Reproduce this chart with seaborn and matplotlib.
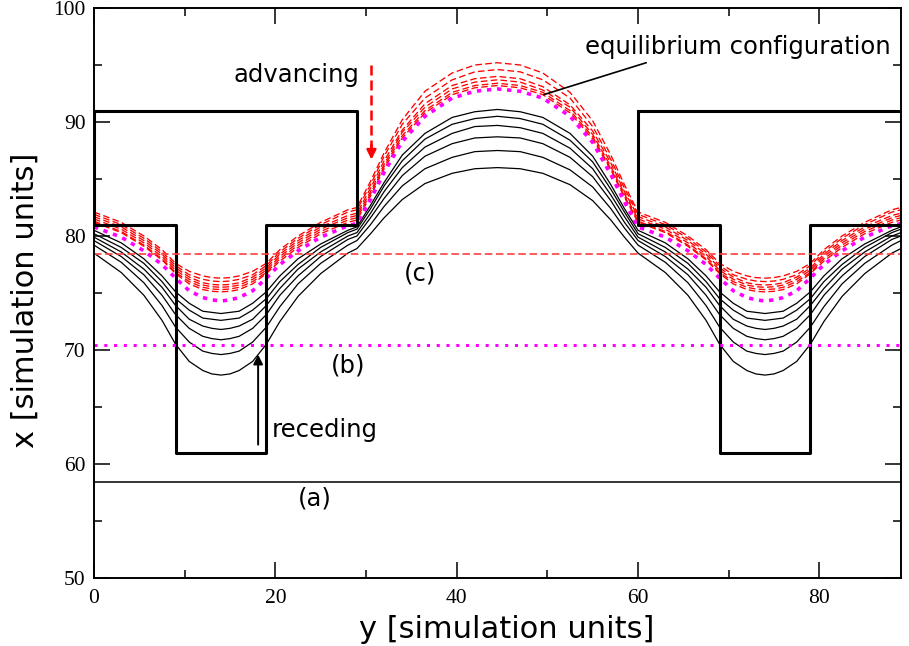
import numpy as np
import pandas as pd
import matplotlib
matplotlib.use("Agg")
import matplotlib.pyplot as plt
import seaborn as sns

# ---------------- data ----------------
X = [0, 3, 5.5, 7.5, 9, 10.5, 12, 13, 14, 15, 16, 17.5, 19, 20.5, 22.5, 25, 28, 29,
     30.5, 32, 34, 36.5, 39.5, 42, 44.5, 47, 49.5, 52.5, 55, 57, 58.5, 60,
     63, 65.5, 67.5, 69, 70.5, 72, 73, 74, 75, 76, 77.5, 79, 80.5, 82.5, 85, 88, 89]

# receding (black solid) interfaces
B1 = [80.5, 79.4, 78.0, 76.5, 75.1, 74.1, 73.4, 73.3, 73.2, 73.3, 73.4, 74.1, 75.1, 76.5, 78.0, 79.3, 80.5, 80.8,
      82.7, 84.7, 87.1, 89.0, 90.4, 90.9, 91.1, 90.9, 90.4, 89.0, 87.0, 84.5, 82.4, 80.5,
      79.4, 78.0, 76.5, 75.1, 74.1, 73.4, 73.3, 73.2, 73.3, 73.4, 74.1, 75.1, 76.5, 78.0, 79.3, 80.5, 80.8]
B2 = [80.2, 79.0, 77.6, 76.0, 74.5, 73.5, 72.8, 72.7, 72.6, 72.7, 72.8, 73.5, 74.5, 76.0, 77.5, 79.0, 80.3, 80.6,
      82.4, 84.4, 86.6, 88.5, 89.8, 90.3, 90.5, 90.3, 89.8, 88.4, 86.5, 84.1, 82.1, 80.2,
      79.0, 77.6, 76.0, 74.5, 73.5, 72.8, 72.7, 72.6, 72.7, 72.8, 73.5, 74.5, 76.0, 77.5, 79.0, 80.3, 80.6]
B3 = [79.9, 78.6, 77.1, 75.5, 73.9, 72.7, 72.1, 71.9, 71.8, 71.9, 72.1, 72.7, 73.9, 75.4, 77.1, 78.6, 80.0, 80.3,
      82.0, 83.9, 86.0, 87.8, 89.0, 89.6, 89.7, 89.5, 89.0, 87.7, 85.9, 83.6, 81.7, 79.9,
      78.6, 77.1, 75.5, 73.9, 72.7, 72.1, 71.9, 71.8, 71.9, 72.1, 72.7, 73.9, 75.4, 77.1, 78.6, 80.0, 80.3]
B4 = [79.6, 78.2, 76.6, 74.8, 73.1, 71.9, 71.2, 71.0, 70.9, 71.0, 71.2, 71.9, 73.1, 74.8, 76.5, 78.2, 79.7, 80.0,
      81.6, 83.3, 85.3, 87.0, 88.1, 88.6, 88.7, 88.6, 88.1, 86.9, 85.2, 83.1, 81.2, 79.6,
      78.2, 76.6, 74.8, 73.1, 71.9, 71.2, 71.0, 70.9, 71.0, 71.2, 71.9, 73.1, 74.8, 76.5, 78.2, 79.7, 80.0]
B5 = [79.2, 77.7, 75.9, 73.9, 72.0, 70.7, 69.9, 69.7, 69.6, 69.7, 69.9, 70.7, 72.0, 73.8, 75.8, 77.6, 79.2, 79.6,
      81.0, 82.6, 84.4, 85.9, 86.9, 87.4, 87.5, 87.4, 86.9, 85.8, 84.3, 82.4, 80.7, 79.2,
      77.7, 75.9, 73.9, 72.0, 70.7, 69.9, 69.7, 69.6, 69.7, 69.9, 70.7, 72.0, 73.8, 75.8, 77.6, 79.2, 79.6]
B6 = [78.5, 76.8, 74.8, 72.6, 70.5, 69.0, 68.2, 67.9, 67.8, 67.9, 68.2, 69.0, 70.5, 72.5, 74.7, 76.7, 78.5, 78.9,
      80.2, 81.6, 83.2, 84.6, 85.5, 85.9, 86.0, 85.9, 85.5, 84.5, 83.1, 81.4, 79.9, 78.5,
      76.8, 74.8, 72.6, 70.5, 69.0, 68.2, 67.9, 67.8, 67.9, 68.2, 69.0, 70.5, 72.5, 74.7, 76.7, 78.5, 78.9]

# advancing (red dashed) interfaces
R1 = [82.1, 81.2, 80.0, 78.8, 77.6, 76.9, 76.5, 76.35, 76.3, 76.35, 76.5, 76.9, 77.6, 78.8, 80.0, 81.2, 82.3, 82.5,
      84.8, 87.3, 90.2, 92.7, 94.3, 95.0, 95.2, 95.0, 94.3, 92.6, 90.1, 87.1, 84.5, 82.1,
      81.2, 80.0, 78.8, 77.6, 76.9, 76.5, 76.35, 76.3, 76.35, 76.5, 76.9, 77.6, 78.8, 80.0, 81.2, 82.3, 82.5]
R2 = [81.9, 81.0, 79.8, 78.6, 77.4, 76.6, 76.2, 76.05, 76.0, 76.05, 76.2, 76.6, 77.4, 78.6, 79.8, 81.0, 82.1, 82.3,
      84.5, 87.0, 89.8, 92.1, 93.7, 94.4, 94.6, 94.4, 93.7, 92.1, 89.6, 86.7, 84.2, 81.9,
      81.0, 79.8, 78.6, 77.4, 76.6, 76.2, 76.05, 76.0, 76.05, 76.2, 76.6, 77.4, 78.6, 79.8, 81.0, 82.1, 82.3]
R3 = [81.7, 80.8, 79.6, 78.4, 77.2, 76.4, 75.9, 75.75, 75.7, 75.75, 75.9, 76.4, 77.2, 78.4, 79.6, 80.8, 81.8, 82.0,
      84.2, 86.6, 89.3, 91.6, 93.2, 93.8, 94.0, 93.8, 93.1, 91.5, 89.2, 86.4, 83.9, 81.7,
      80.8, 79.6, 78.4, 77.2, 76.4, 75.9, 75.75, 75.7, 75.75, 75.9, 76.4, 77.2, 78.4, 79.6, 80.8, 81.8, 82.0]
R4 = [81.5, 80.6, 79.4, 78.2, 77.0, 76.2, 75.7, 75.55, 75.5, 75.55, 75.7, 76.2, 77.0, 78.2, 79.4, 80.6, 81.6, 81.8,
      83.9, 86.3, 89.1, 91.3, 92.9, 93.5, 93.7, 93.5, 92.8, 91.3, 88.9, 86.1, 83.7, 81.5,
      80.6, 79.4, 78.2, 77.0, 76.2, 75.7, 75.55, 75.5, 75.55, 75.7, 76.2, 77.0, 78.2, 79.4, 80.6, 81.6, 81.8]
R5 = [81.3, 80.4, 79.2, 78.0, 76.8, 76.0, 75.5, 75.35, 75.3, 75.35, 75.5, 76.0, 76.8, 78.0, 79.2, 80.4, 81.4, 81.6,
      83.7, 86.1, 88.8, 91.0, 92.6, 93.2, 93.4, 93.2, 92.6, 91.0, 88.7, 85.9, 83.5, 81.3,
      80.4, 79.2, 78.0, 76.8, 76.0, 75.5, 75.35, 75.3, 75.35, 75.5, 76.0, 76.8, 78.0, 79.2, 80.4, 81.4, 81.6]
R6 = [81.2, 80.3, 79.1, 77.9, 76.7, 75.8, 75.3, 75.15, 75.1, 75.15, 75.3, 75.8, 76.7, 77.8, 79.0, 80.2, 81.2, 81.4,
      83.5, 85.9, 88.6, 90.8, 92.4, 93.0, 93.2, 93.0, 92.4, 90.8, 88.5, 85.8, 83.4, 81.2,
      80.3, 79.1, 77.9, 76.7, 75.8, 75.3, 75.15, 75.1, 75.15, 75.3, 75.8, 76.7, 77.8, 79.0, 80.2, 81.2, 81.4]

# equilibrium configuration (magenta dotted)
M = [80.8, 79.9, 78.7, 77.5, 76.3, 75.2, 74.6, 74.4, 74.3, 74.4, 74.6, 75.2, 76.3, 77.5, 78.7, 79.9, 80.9, 81.1,
     83.2, 85.6, 88.3, 90.5, 92.1, 92.7, 92.9, 92.7, 92.1, 90.5, 88.2, 85.4, 83.0, 80.8,
     79.9, 78.7, 77.5, 76.3, 75.2, 74.6, 74.4, 74.3, 74.4, 74.6, 75.2, 76.3, 77.5, 78.7, 79.9, 80.9, 81.1]

# obstacle outlines (T-shaped posts)
post1_x = [0, 29, 29, 19, 19, 9, 9, 0, 0]
post1_y = [91, 91, 81, 81, 61, 61, 81, 81, 91]
post2_x = [60, 89, 89, 79, 79, 69, 69, 60, 60]
post2_y = [91, 91, 81, 81, 61, 61, 81, 81, 91]

# horizontal reference levels (a), (b), (c)
level_a = 58.4
level_b = 70.4
level_c = 78.4

x_ticks = [0, 20, 40, 60, 80]
y_ticks = [50, 60, 70, 80, 90, 100]

# ---------------- plot ----------------
sns.set_theme(style="white")
plt.rcParams['font.family'] = ['DejaVu Sans']

fig = plt.figure(figsize=(9.09, 6.46), dpi=100)
ax = fig.add_axes([94 / 909, 1 - 578 / 646, (901 - 94) / 909, (578 - 8) / 646])

for arr in [B1, B2, B3, B4, B5, B6]:
    sns.lineplot(x=X, y=arr, color="black", lw=0.9, sort=False, estimator=None, ax=ax)
for arr in [R1, R2, R3, R4, R5, R6]:
    sns.lineplot(x=X, y=arr, color="red", lw=0.95, linestyle=(0, (5, 2.5)),
                 sort=False, estimator=None, ax=ax)
sns.lineplot(x=X, y=M, color="magenta", lw=2.6, linestyle=(0, (1.2, 1.6)),
             sort=False, estimator=None, ax=ax)

for px, py in [(post1_x, post1_y), (post2_x, post2_y)]:
    sns.lineplot(x=px, y=py, color="black", lw=2.2, sort=False, estimator=None, ax=ax)

ax.axhline(level_a, color="black", lw=1.1)
ax.axhline(level_b, color="magenta", lw=2.2, linestyle=(0, (1, 2.2)))
ax.axhline(level_c, color="#ff4040", lw=1.2, linestyle=(0, (4.5, 2.2)))

# annotations
tkw = dict(fontsize=17.5, color="black", family="DejaVu Sans")
ax.text(22.3, 94.1, "advancing", ha="center", va="center", **tkw)
ax.text(71.0, 96.6, "equilibrium configuration", ha="center", va="center", **tkw)
ax.text(36.0, 76.7, "(c)", ha="center", va="center", **tkw)
ax.text(28.0, 68.6, "(b)", ha="center", va="center", **tkw)
ax.text(25.5, 63.0, "receding", ha="center", va="center", **tkw)
ax.text(24.4, 57.0, "(a)", ha="center", va="center", **tkw)

ax.plot([30.6, 30.6], [95.0, 87.6], color="red", lw=1.8, linestyle=(0, (4, 2)))
ax.annotate("", xy=(30.6, 86.7), xytext=(30.6, 88.0),
            arrowprops=dict(arrowstyle="-|>", color="red", lw=1.8,
                            mutation_scale=14, shrinkA=0, shrinkB=0))
ax.annotate("", xy=(18.1, 69.6), xytext=(18.1, 61.7),
            arrowprops=dict(arrowstyle="-|>", color="black", lw=1.4,
                            mutation_scale=14, shrinkA=0, shrinkB=0))
ax.plot([60.9, 49.6], [95.2, 92.4], color="black", lw=1.2)

# axes styling
ax.set_xlim(0, 89)
ax.set_ylim(50, 100)
ax.set_xticks(x_ticks)
ax.set_yticks(y_ticks)
ax.set_xticks([10, 30, 50, 70], minor=True)
ax.set_yticks([55, 65, 75, 85, 95], minor=True)
ax.tick_params(which="both", direction="in", top=True, right=True, bottom=True, left=True,
               color="black", width=1.1)
ax.tick_params(which="major", length=11.5)
ax.tick_params(which="minor", length=5.8)
ax.tick_params(axis="x", pad=8)
ax.tick_params(axis="y", pad=6)
for lab in ax.get_xticklabels() + ax.get_yticklabels():
    lab.set_family("Liberation Serif")
    lab.set_fontsize(15.5)
    lab.set_color("black")
for sp in ax.spines.values():
    sp.set_color("black")
    sp.set_linewidth(1.4)
ax.grid(False)

ax.set_xlabel("y [simulation units]", fontsize=22, color="black", labelpad=5)
ax.set_ylabel("x [simulation units]", fontsize=22, color="black", labelpad=10)
ax.xaxis.label.set_x(0.511)
ax.yaxis.label.set_y(0.488)

fig.savefig("out.png", dpi=100, facecolor="white")
